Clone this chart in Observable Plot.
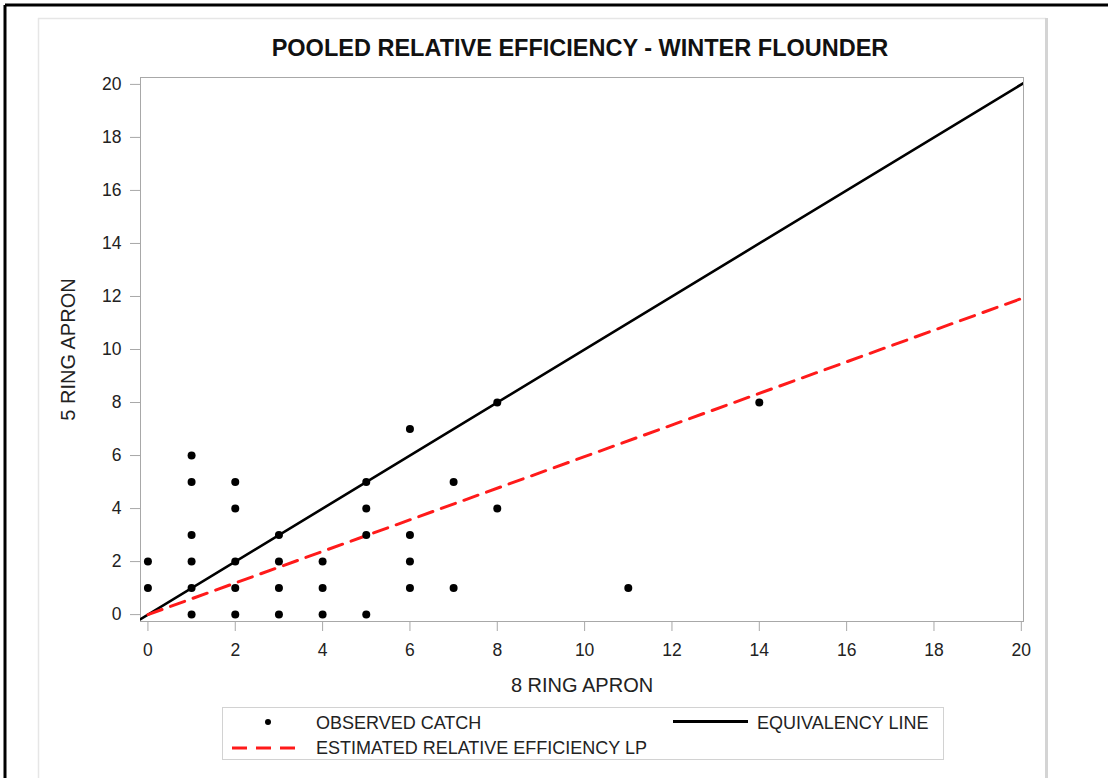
<!DOCTYPE html>
<html>
<head>
<meta charset="utf-8">
<script src="https://cdn.jsdelivr.net/npm/d3@7"></script>
<script src="https://cdn.jsdelivr.net/npm/@observablehq/plot@0.6"></script>
<style>
  body { margin: 0; background: #fff; font-family: "Liberation Sans", Arial, sans-serif; }
  #wrap { position: relative; width: 1108px; height: 778px; overflow: hidden; background: #fff; }
  #wrap > * { position: absolute; }
  #chart { left: 0; top: 0; }
  #title { left: 80px; width: 1000px; top: 34px; text-align: center; font-weight: bold; font-size: 23.5px; line-height: 28px; color: #111; white-space: nowrap; }
  #overlay { left: 0; top: 0; pointer-events: none; }
</style>
</head>
<body>
<div id="wrap">
  <div id="chart"></div>
  <div id="title"></div>
  <svg id="overlay" width="1108" height="778"></svg>
</div>
<script>
// ---- data ----
const titleText = "POOLED RELATIVE EFFICIENCY - WINTER FLOUNDER";
const xLabel = "8 RING APRON";
const yLabel = "5 RING APRON";
const xTicks = [0, 2, 4, 6, 8, 10, 12, 14, 16, 18, 20];
const yTicks = [0, 2, 4, 6, 8, 10, 12, 14, 16, 18, 20];
const xDomain = [-0.17, 20.05];
const yDomain = [-0.26, 20.26];

// observed catch (8 ring apron, 5 ring apron)
const catchX = [0, 0, 1, 1, 1, 1, 1, 1, 2, 2, 2, 2, 2, 3, 3, 3, 3, 4, 4, 4, 5, 5, 5, 5, 6, 6, 6, 6, 7, 7, 8, 8, 11, 14];
const catchY = [1, 2, 0, 1, 2, 3, 5, 6, 0, 1, 2, 4, 5, 0, 1, 2, 3, 0, 1, 2, 0, 3, 4, 5, 1, 2, 3, 7, 1, 5, 4, 8, 1, 8];

// equivalency line y = x across the axis range
const equivX = [-0.17, 20.05];
// estimated relative efficiency line
const estX = [0, 20];
const estY = [0, 11.92];

const legendLabels = ["OBSERVED CATCH", "EQUIVALENCY LINE", "ESTIMATED RELATIVE EFFICIENCY LP"];

// ---- chart ----
document.getElementById("title").textContent = titleText;

const gray = "#a8a8a8";
const chart = Plot.plot({
  width: 1108,
  height: 778,
  marginLeft: 140,
  marginRight: 85,
  marginTop: 77,
  marginBottom: 157,
  style: { fontFamily: "'Liberation Sans', Arial, sans-serif", fontSize: "17.5px", color: "#222", background: "transparent" },
  x: { domain: xDomain },
  y: { domain: yDomain },
  marks: [
    Plot.frame({ stroke: gray }),
    Plot.axisX(xTicks, { tickSize: 10, tickPadding: 12, stroke: gray, fill: "#222", fontSize: 17.5, label: null }),
    Plot.axisY(yTicks, { tickSize: 10, tickPadding: 9, stroke: gray, fill: "#222", fontSize: 17.5, label: null }),
    Plot.text([xLabel], { text: d => d, frameAnchor: "bottom", lineAnchor: "middle", textAnchor: "middle", dy: 64, fontSize: 20, fill: "#222" }),
    Plot.text([yLabel], { text: d => d, frameAnchor: "left", lineAnchor: "middle", textAnchor: "middle", dx: -72, rotate: -90, fontSize: 20, fill: "#222" }),
    Plot.line(equivX, { x: d => d, y: d => d, stroke: "#000", strokeWidth: 2.6, clip: true }),
    Plot.line(estX, { x: d => d, y: (d, i) => estY[i], stroke: "#ff1a1a", strokeWidth: 3, strokeDasharray: "15,9", clip: true }),
    Plot.dot(catchX, { x: d => d, y: (d, i) => catchY[i], r: 4, fill: "#000", stroke: "none" })
  ]
});
document.getElementById("chart").appendChild(chart);

// ---- page frame + legend ----
const ov = d3.select("#overlay");
// outer black border
ov.append("line").attr("x1", 5).attr("x2", 1108).attr("y1", 5).attr("y2", 5).attr("stroke", "#000").attr("stroke-width", 3);
ov.append("line").attr("x1", 5).attr("x2", 5).attr("y1", 5).attr("y2", 778).attr("stroke", "#000").attr("stroke-width", 3);
// inner light gray panel border
ov.append("line").attr("x1", 38).attr("x2", 1046).attr("y1", 18.5).attr("y2", 18.5).attr("stroke", "#e6e6e6").attr("stroke-width", 1.5);
ov.append("line").attr("x1", 38.5).attr("x2", 38.5).attr("y1", 18).attr("y2", 778).attr("stroke", "#e6e6e6").attr("stroke-width", 1.5);
ov.append("line").attr("x1", 1046.5).attr("x2", 1046.5).attr("y1", 18).attr("y2", 778).attr("stroke", "#d4d4d4").attr("stroke-width", 3);

// legend box
ov.append("rect").attr("x", 222.5).attr("y", 707.5).attr("width", 721).attr("height", 52).attr("fill", "#fff").attr("stroke", "#d2d2d2");
ov.append("circle").attr("cx", 268).attr("cy", 722).attr("r", 3).attr("fill", "#000");
ov.append("line").attr("x1", 673).attr("x2", 748).attr("y1", 721.5).attr("y2", 721.5).attr("stroke", "#000").attr("stroke-width", 3);
ov.append("line").attr("x1", 232).attr("x2", 295).attr("y1", 748).attr("y2", 748).attr("stroke", "#ff1a1a").attr("stroke-width", 3).attr("stroke-dasharray", "15,9");
const lt = [[316, 728.5, legendLabels[0]], [757, 728.5, legendLabels[1]], [316, 754, legendLabels[2]]];
lt.forEach(([x, y, t]) => {
  ov.append("text").attr("x", x).attr("y", y).attr("font-size", 18).attr("fill", "#222")
    .attr("font-family", "'Liberation Sans', Arial, sans-serif").text(t);
});
</script>
</body>
</html>
